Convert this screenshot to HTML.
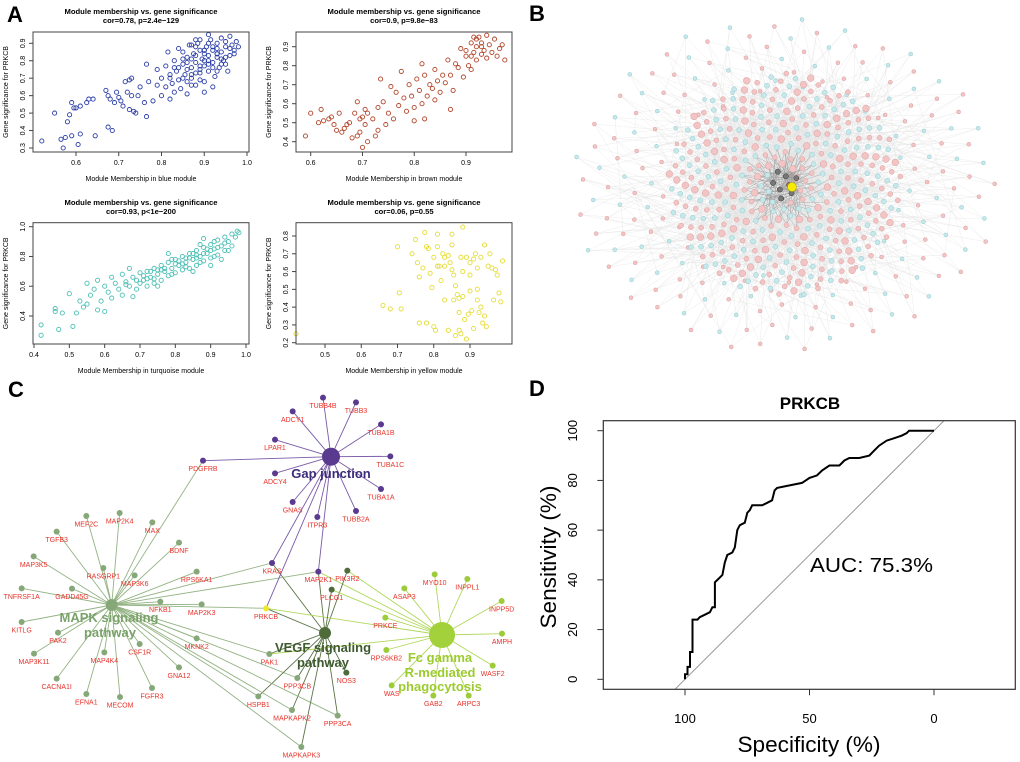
<!DOCTYPE html>
<html><head><meta charset="utf-8"><style>
html,body{margin:0;padding:0;background:#fff}
svg{display:block;font-family:"Liberation Sans",sans-serif}
</style></head><body>
<svg id="fig" width="1020" height="762" viewBox="0 0 1020 762" xmlns="http://www.w3.org/2000/svg">
<g id="net"></g>
<g id="pa"></g>
<g id="pc"></g>
<g id="pd"></g>
<text x="7" y="22" font-size="22" font-weight="bold">A</text>
<text x="529" y="21" font-size="22" font-weight="bold">B</text>
<text x="8" y="397" font-size="22" font-weight="bold">C</text>
<text x="529" y="396" font-size="22" font-weight="bold">D</text>
</svg>
<script>
// ---------- Panel A data ----------
const blueX=[0.52,0.55,0.565,0.57,0.575,0.58,0.585,0.59,0.59,0.595,0.60,0.605,0.61,0.61,0.625,0.63,0.64,0.645,0.67,0.675,0.675,0.68,0.685,0.69,0.695,0.70,0.705,0.71,0.715,0.72,0.725,0.73,0.73,0.725,0.735,0.74,0.745,0.75,0.76,0.765,0.765,0.77,0.78,0.79,0.79,0.80,0.80,0.81,0.81,0.815,0.82,0.82,0.825,0.83,0.83,0.835,0.84,0.845,0.85,0.85,0.855,0.86,0.86,0.865,0.87,0.87,0.875,0.88,0.88,0.885,0.89,0.89,0.895,0.90,0.90,0.905,0.91,0.91,0.915,0.92,0.92,0.925,0.93,0.93,0.935,0.94,0.94,0.945,0.95,0.955,0.96,0.96,0.965,0.97,0.975,0.98,0.90,0.86,0.84,0.88,0.92,0.95,0.87,0.89,0.93,0.91,0.86,0.90,0.94,0.88,0.92,0.85,0.89,0.93,0.96,0.87,0.91,0.83,0.95,0.90,0.87,0.89,0.91,0.93,0.85,0.88,0.90,0.92,0.94,0.86,0.84,0.82,0.88,0.91,0.95,0.97,0.89,0.87,0.93,0.90];
const blueY=[0.34,0.50,0.35,0.30,0.36,0.45,0.49,0.37,0.56,0.53,0.53,0.32,0.38,0.54,0.56,0.58,0.58,0.37,0.63,0.60,0.42,0.58,0.40,0.56,0.62,0.59,0.57,0.54,0.68,0.62,0.69,0.60,0.70,0.52,0.51,0.50,0.60,0.65,0.56,0.48,0.78,0.68,0.57,0.66,0.75,0.60,0.70,0.65,0.77,0.85,0.58,0.72,0.67,0.62,0.80,0.74,0.69,0.64,0.78,0.85,0.72,0.61,0.82,0.89,0.70,0.76,0.84,0.66,0.79,0.90,0.73,0.86,0.81,0.68,0.77,0.88,0.83,0.74,0.92,0.79,0.86,0.71,0.82,0.90,0.76,0.85,0.93,0.80,0.88,0.74,0.83,0.94,0.89,0.86,0.91,0.88,0.62,0.75,0.87,0.92,0.65,0.91,0.81,0.69,0.87,0.95,0.79,0.84,0.78,0.73,0.88,0.81,0.77,0.84,0.87,0.89,0.80,0.76,0.82,0.86,0.72,0.75,0.78,0.74,0.70,0.83,0.86,0.76,0.81,0.68,0.76,0.70,0.88,0.90,0.78,0.84,0.92,0.66,0.84,0.80];
const brownX=[0.59,0.60,0.615,0.62,0.625,0.635,0.64,0.645,0.65,0.655,0.66,0.665,0.67,0.675,0.68,0.685,0.69,0.69,0.695,0.695,0.70,0.70,0.705,0.705,0.71,0.71,0.72,0.725,0.73,0.73,0.735,0.74,0.745,0.75,0.755,0.76,0.765,0.77,0.775,0.78,0.785,0.79,0.795,0.80,0.80,0.805,0.81,0.815,0.815,0.82,0.82,0.825,0.83,0.835,0.84,0.84,0.845,0.85,0.855,0.86,0.865,0.87,0.87,0.875,0.88,0.885,0.89,0.895,0.90,0.905,0.91,0.91,0.915,0.915,0.92,0.92,0.925,0.93,0.93,0.935,0.94,0.94,0.945,0.95,0.955,0.96,0.965,0.97,0.975,0.92,0.90,0.93,0.91];
const brownY=[0.43,0.55,0.50,0.57,0.51,0.52,0.53,0.49,0.46,0.55,0.45,0.47,0.49,0.50,0.42,0.55,0.61,0.43,0.45,0.52,0.37,0.53,0.49,0.57,0.40,0.55,0.52,0.43,0.46,0.58,0.73,0.61,0.49,0.55,0.69,0.52,0.66,0.59,0.77,0.63,0.56,0.70,0.64,0.51,0.58,0.73,0.67,0.81,0.60,0.52,0.75,0.64,0.70,0.68,0.62,0.78,0.72,0.66,0.75,0.71,0.83,0.57,0.75,0.67,0.81,0.79,0.89,0.74,0.85,0.80,0.92,0.78,0.87,0.95,0.83,0.90,0.95,0.86,0.92,0.88,0.96,0.84,0.91,0.87,0.94,0.85,0.89,0.91,0.83,0.94,0.88,0.90,0.85];
const turqX=[0.42,0.42,0.46,0.46,0.47,0.48,0.50,0.51,0.52,0.53,0.54,0.55,0.55,0.56,0.57,0.58,0.59,0.60,0.60,0.61,0.62,0.63,0.64,0.65,0.66,0.67,0.68,0.68,0.69,0.70,0.70,0.71,0.72,0.72,0.73,0.74,0.74,0.75,0.76,0.76,0.77,0.78,0.78,0.79,0.80,0.80,0.81,0.82,0.82,0.83,0.84,0.84,0.85,0.86,0.86,0.87,0.88,0.88,0.89,0.90,0.90,0.91,0.92,0.92,0.93,0.94,0.94,0.95,0.96,0.96,0.97,0.98,0.975,0.65,0.62,0.75,0.85,0.90,0.58,0.67,0.78,0.88,0.93,0.71,0.76,0.81,0.83,0.87,0.89,0.91,0.74,0.79,0.86,0.92,0.95,0.69,0.73,0.77,0.82,0.84,0.66,0.80,0.85,0.90,0.87,0.83,0.79,0.75,0.72,0.94,0.91,0.88,0.86];
const turqY=[0.34,0.27,0.45,0.43,0.31,0.42,0.55,0.33,0.42,0.50,0.46,0.62,0.48,0.54,0.58,0.44,0.50,0.60,0.43,0.56,0.52,0.62,0.58,0.54,0.63,0.60,0.66,0.53,0.58,0.69,0.62,0.64,0.60,0.70,0.66,0.72,0.62,0.68,0.74,0.64,0.70,0.76,0.67,0.72,0.78,0.69,0.74,0.80,0.71,0.76,0.82,0.72,0.78,0.84,0.74,0.80,0.86,0.77,0.82,0.88,0.79,0.85,0.91,0.81,0.87,0.93,0.84,0.90,0.95,0.87,0.93,0.96,0.97,0.68,0.66,0.60,0.70,0.74,0.64,0.72,0.82,0.92,0.78,0.67,0.71,0.77,0.73,0.76,0.85,0.80,0.65,0.68,0.81,0.86,0.84,0.64,0.70,0.72,0.75,0.79,0.61,0.75,0.82,0.84,0.88,0.79,0.78,0.71,0.65,0.89,0.90,0.82,0.79];
const yelX=[0.42,0.66,0.68,0.70,0.705,0.71,0.74,0.75,0.755,0.76,0.76,0.77,0.775,0.78,0.78,0.785,0.79,0.795,0.80,0.80,0.805,0.81,0.81,0.81,0.815,0.82,0.825,0.83,0.83,0.84,0.84,0.845,0.85,0.85,0.85,0.855,0.855,0.86,0.86,0.865,0.87,0.87,0.87,0.875,0.88,0.88,0.885,0.89,0.89,0.895,0.90,0.90,0.905,0.91,0.91,0.915,0.92,0.92,0.925,0.93,0.93,0.935,0.94,0.94,0.945,0.95,0.955,0.96,0.965,0.97,0.975,0.98,0.985,0.99,0.875,0.90,0.83,0.92,0.88];
const yelY=[0.25,0.41,0.39,0.74,0.48,0.39,0.70,0.78,0.65,0.57,0.31,0.62,0.82,0.74,0.31,0.73,0.59,0.51,0.68,0.29,0.27,0.81,0.63,0.74,0.63,0.55,0.70,0.68,0.63,0.69,0.27,0.65,0.81,0.61,0.75,0.44,0.58,0.52,0.24,0.47,0.45,0.27,0.37,0.68,0.85,0.60,0.33,0.22,0.68,0.36,0.49,0.65,0.38,0.28,0.67,0.70,0.50,0.62,0.37,0.68,0.40,0.31,0.75,0.35,0.29,0.63,0.70,0.62,0.44,0.61,0.58,0.48,0.43,0.66,0.25,0.58,0.44,0.44,0.46];
const tlXTicks=[0.6,0.7,0.8,0.9,1.0], tlYTicks=[0.3,0.4,0.5,0.6,0.7,0.8,0.9];
const trXTicks=[0.6,0.7,0.8,0.9], trYTicks=[0.4,0.5,0.6,0.7,0.8,0.9];
const blXTicks=[0.4,0.5,0.6,0.7,0.8,0.9,1.0], blYTicks=[0.4,0.6,0.8,1.0];
const brXTicks=[0.5,0.6,0.7,0.8,0.9], brYTicks=[0.2,0.3,0.4,0.5,0.6,0.7,0.8];
// ---------- Panel D data ----------
const rocSpec=[100,100,99,99,98,98,97,97,95,94,92,90,89,88,88,87,86,85,84,83,81,80,79,78,76,75,74,73,69,67,65,64,63,58,53,50,47,45,42,38,36,34,30,26,24,22,19,16,13,11,10,0];
const rocSens=[0,2,2,5,5,11,11,24,24,25,26,27,29,29,39,40,41,42,47,50,51,53,60,62,63,67,68,70,70,71,72,76,77,78,79,81,82,84,86,86,88,89,89,90,92,94,96,97,98,99,100,100];
const rocXTicks=[100,50,0], rocYTicks=[0,20,40,60,80,100];

const NS="http://www.w3.org/2000/svg";
function mk(tag,attrs,parent,txt){const e=document.createElementNS(NS,tag);for(const k in attrs)e.setAttribute(k,attrs[k]);if(txt!==undefined)e.textContent=txt;parent.appendChild(e);return e;}
function lin(d0,r0,d1,r1){return v=>r0+(v-d0)*(r1-r0)/(d1-d0);}

const pa=document.getElementById('pa');
function scatter(o){
  const g=mk('g',{},pa);
  
  
  const [x0,y0,x1,y1]=o.box;
  const xs=lin(o.xd[0],o.xd[1],o.xd[2],o.xd[3]), ys=lin(o.yd[0],o.yd[1],o.yd[2],o.yd[3]);
  const cx=(x0+x1)/2;
  const t1=mk('text',{x:cx,y:o.ty,'font-size':7.6,'font-weight':'bold','text-anchor':'middle',textLength:153,lengthAdjust:'spacingAndGlyphs'},g,'Module membership vs. gene significance');
  
  
  const t2=mk('text',{x:cx,y:o.ty+9,'font-size':7.6,'font-weight':'bold','text-anchor':'middle'},g,o.sub);
  
  
  for(let i=0;i<o.X.length;i++){
    const c=mk('circle',{cx:xs(o.X[i]).toFixed(1),cy:ys(o.Y[i]).toFixed(1),r:2.1,fill:'none',stroke:o.col,'stroke-width':0.9},g);
    
    
  }
  const b=mk('rect',{x:x0,y:y0,width:x1-x0,height:y1-y0,fill:'none',stroke:'#444','stroke-width':1},g);
  
  
  o.xt.forEach(v=>{const x=xs(v);mk('line',{x1:x,y1:y1,x2:x,y2:y1+4,stroke:'#444'},g);
    const t=mk('text',{x:x,y:y1+13,'font-size':7,'text-anchor':'middle'},g,v.toFixed(1));
    
    });
  o.yt.forEach(v=>{const y=ys(v);mk('line',{x1:x0,y1:y,x2:x0-4,y2:y,stroke:'#444'},g);
    const t=mk('text',{x:x0-8,y:y,'font-size':7,'text-anchor':'middle',transform:`rotate(-90 ${x0-8} ${y})`},g,v.toFixed(1));
    
    });
  const xt=mk('text',{x:cx,y:y1+29,'font-size':7,'text-anchor':'middle'},g,o.xl);
  
  
  const ym=(y0+y1)/2;
  const yt=mk('text',{x:x0-25,y:ym,'font-size':7,'text-anchor':'middle',transform:`rotate(-90 ${x0-25} ${ym})`},g,'Gene significance for PRKCB');
  
  
}
scatter({name:'blue-module-scatter',box:[33,32,249,152],xd:[0.6,76,1.0,247],yd:[0.9,43.3,0.3,148],X:blueX,Y:blueY,col:'#2a3da6',xt:tlXTicks,yt:tlYTicks,ty:14,sub:'cor=0.78, p=2.4e\u2212129',xl:'Module Membership in blue module'});
scatter({name:'brown-module-scatter',box:[296,32,512,152],xd:[0.6,310.7,0.9,466],yd:[0.9,46.7,0.4,141.7],X:brownX,Y:brownY,col:'#b3452a',xt:trXTicks,yt:trYTicks,ty:14,sub:'cor=0.9, p=9.8e\u221283',xl:'Module Membership in brown module'});
scatter({name:'turquoise-module-scatter',box:[33,222.7,249,344],xd:[0.4,34,1.0,246],yd:[1.0,226.7,0.4,316],X:turqX,Y:turqY,col:'#4cbfb6',xt:blXTicks,yt:blYTicks,ty:205,sub:'cor=0.93, p<1e\u2212200',xl:'Module Membership in turquoise module'});
scatter({name:'yellow-module-scatter',box:[296,222.7,512,344],xd:[0.5,325,0.9,470],yd:[0.8,236,0.2,342.7],X:yelX,Y:yelY,col:'#e6dc35',xt:brXTicks,yt:brYTicks,ty:205,sub:'cor=0.06, p=0.55',xl:'Module Membership in yellow module'});

// ---------- Panel B network (layout only, decorative) ----------
(function(){
  const g=document.getElementById('net');
  const cx=785,cy=185,N=620,pts=[];
  const ga=2.39996;
  for(let i=0;i<N;i++){
    const f=Math.sqrt((i+0.5)/N);
    const inner=f<0.82;
    const r=inner?f/0.82*112:112+(f-0.82)*520;
    const a=i*ga;
    pts.push([cx+r*Math.cos(a)*1.04,cy+r*Math.sin(a)*(inner?1:0.82)]);
  }
  const eg=mk('g',{stroke:'#c8c8c8','stroke-width':0.35,opacity:0.5},g);
  for(let i=0;i<N;i++){
    const j=(i*37+11)%N,k=(i*91+5)%200;
    mk('line',{x1:pts[i][0],y1:pts[i][1],x2:pts[j][0],y2:pts[j][1]},eg);
    mk('line',{x1:pts[i][0],y1:pts[i][1],x2:pts[k][0],y2:pts[k][1]},eg);
  }
  const dg=mk('g',{stroke:'#444','stroke-width':0.4,opacity:0.45},g);
  for(let i=0;i<12;i++)for(let j=0;j<14;j++){const q=(j*13+i*5)%70;mk('line',{x1:pts[i][0],y1:pts[i][1],x2:pts[q][0],y2:pts[q][1]},dg);}
  for(let i=N-1;i>=0;i--){
    const pink=(i*7)%5<3;
    const inner=i<N*0.67;
    const rr=inner?(i%5===0?3.4:2.5):2;
    const c=mk('circle',{cx:pts[i][0].toFixed(1),cy:pts[i][1].toFixed(1),r:rr,fill:pink?'#f2c4c4':'#c5e8ea',stroke:pink?'#dba0a0':'#94cbd0','stroke-width':0.5},g);
    
    
  }
  for(let i=0;i<8;i++){mk('circle',{cx:pts[i][0],cy:pts[i][1],r:2.6,fill:'#777',stroke:'#333','stroke-width':0.5},g);}
  const y=mk('circle',{cx:792,cy:187,r:4.5,fill:'#f5ec00',stroke:'#aa0','stroke-width':0.6},g);
  
  
})();

// ---------- Panel C pathway network ----------
const hubs={gap:[331,456.7,9,'#5a3a8e','#7a5aa8'],mapk:[111.7,605,6,'#86a878','#93b383'],vegf:[325,633,6,'#4f6b3a','#5a7445'],fc:[442,635,13,'#a3d13b','#b0d85a']};
const genes=[
['TUBB4B',969,173,'gap'],['TUBB3',1068,187,'gap'],['ADCY1',878,214,'gap'],['TUBA1B',1143,253,'gap'],['LPAR1',825,299,'gap'],['TUBA1C',1171,349,'gap'],['PDGFRB',609,362,'gap mapk'],['ADCY4',825,400,'gap'],['TUBA1A',1143,447,'gap'],['GNAS',878,486,'gap'],['TUBB2A',1068,513,'gap'],['ITPR3',952,531,'gap'],
['MEF2C',259,528,'mapk'],['MAP2K4',359,519,'mapk'],['MAX',457,547,'mapk'],['TGFB3',170,575,'mapk'],['BDNF',537,608,'mapk'],['MAP3K5',101,649,'mapk'],['RASGRP1',310,684,'mapk'],['MAP3K6',404,706,'mapk'],['RPS6KA1',590,695,'mapk'],['KRAS',816,669,'gap mapk vegf'],['MAP2K1',955,695,'gap mapk vegf fc'],['PIK3R2',1042,692,'vegf fc'],['TNFRSF1A',65,745,'mapk'],['GADD45G',216,746,'mapk'],['NFKB1',481,785,'mapk'],['MAP2K3',605,793,'mapk'],['PRKCB',798,805,'gap mapk vegf fc'],['PLCG1',995,749,'vegf fc'],
['ASAP3',1213,745,'fc'],['MYO10',1304,703,'fc'],['INPPL1',1402,717,'fc'],['INPP5D',1505,783,'fc'],['PRKCE',1156,833,'fc'],['AMPH',1506,881,'fc'],['KITLG',65,846,'mapk'],['PAK2',174,878,'mapk'],['MKNK2',590,895,'mapk'],['CSF1R',419,912,'mapk'],['MAP3K11',102,941,'mapk'],['MAP4K4',313,937,'mapk'],['PAK1',808,942,'mapk vegf fc'],['RPS6KB2',1159,930,'fc'],['GNA12',537,982,'mapk'],['WASF2',1478,977,'fc'],['CACNA1I',170,1016,'mapk'],['PPP3CB',892,1014,'mapk vegf'],['NOS3',1039,998,'vegf'],['WAS',1175,1036,'fc'],['EFNA1',259,1062,'mapk'],['MECOM',360,1071,'mapk'],['FGFR3',456,1044,'mapk'],['HSPB1',775,1069,'mapk vegf'],['GAB2',1300,1067,'fc'],['ARPC3',1406,1067,'fc'],['MAPKAPK2',876,1110,'mapk vegf'],['PPP3CA',1013,1127,'mapk vegf'],['MAPKAPK3',904,1221,'mapk vegf']];
(function(){
  const g=document.getElementById('pc');
  const eg=mk('g',{'stroke-width':0.9},g);
  const P=(x,y)=>[x/3,340+y/3];
  genes.forEach(d=>{const [x,y]=P(d[1],d[2]);d[3].split(' ').forEach(h=>{const H=hubs[h];
    const l=mk('line',{x1:H[0],y1:H[1],x2:x,y2:y,stroke:H[4]},eg);
    
    });});
  genes.forEach(d=>{const [x,y]=P(d[1],d[2]);const hs=d[3].split(' ');
    let col=hubs[hs[0]][3];
    if(d[0]==='PRKCB')col='#f0e82a';
    if(hs.length===1&&hs[0]==='fc')col='#9ccc3a';
    const c=mk('circle',{cx:x,cy:y,r:3,fill:col},g);
    
    
    const t=mk('text',{x:x,y:y+10.5,'font-size':7,fill:'#e8322a','text-anchor':'middle'},g,d[0]);
    
    });
  for(const k in hubs){const H=hubs[k];const c=mk('circle',{cx:H[0],cy:H[1],r:H[2],fill:H[3]},g);
    
    }
  const labs=[['Gap junction',331,478,'#3b2b78'],['MAPK signaling',109,622,'#7aa26a'],['pathway',110,637,'#7aa26a'],['VEGF signaling',323,652,'#3f5a2e'],['pathway',323,667,'#3f5a2e'],['Fc gamma',440,662,'#9ccb2f'],['R-mediated',440,677,'#9ccb2f'],['phagocytosis',440,691,'#9ccb2f']];
  labs.forEach(l=>{const t=mk('text',{x:l[1],y:l[2],'font-size':13,'font-weight':'bold',fill:l[3],'text-anchor':'middle'},g,l[0]);
    
    });
})();

// ---------- Panel D ROC ----------
(function(){
  const g=document.getElementById('pd');
  const x0=603.3,y0=420.7,x1=1015.3,y1=689.3;
  const xs=lin(100,685,0,934), ys=lin(100,430.7,0,679.3);
  const cp=mk('clipPath',{id:'rocclip'},g);mk('rect',{x:x0,y:y0,width:x1-x0,height:y1-y0},cp);
  const dl=mk('line',{x1:xs(108),y1:ys(-8),x2:xs(-12),y2:ys(112),stroke:'#999','stroke-width':1,'clip-path':'url(#rocclip)'},g);
  
  
  let d='';rocSpec.forEach((s,i)=>{d+=(i?'L':'M')+xs(s).toFixed(1)+','+ys(rocSens[i]).toFixed(1);});
  const p=mk('path',{d:d,fill:'none',stroke:'#000','stroke-width':2},g);
  
  
  const b=mk('rect',{x:x0,y:y0,width:x1-x0,height:y1-y0,fill:'none',stroke:'#333','stroke-width':1.2},g);
  
  
  rocXTicks.forEach(v=>{const x=xs(v);mk('line',{x1:x,y1:y1,x2:x,y2:y1+6,stroke:'#333'},g);
    const t=mk('text',{x:x,y:723,'font-size':13,'text-anchor':'middle'},g,String(v));
    
    });
  rocYTicks.forEach(v=>{const y=ys(v);mk('line',{x1:x0,y1:y,x2:x0-6,y2:y,stroke:'#333'},g);
    const t=mk('text',{x:577,y:y,'font-size':13,'text-anchor':'middle',transform:`rotate(-90 577 ${y})`},g,String(v));
    
    });
  const tt=mk('text',{x:810,y:409,'font-size':17,'font-weight':'bold','text-anchor':'middle'},g,'PRKCB');
  
  
  const au=mk('text',{x:810,y:572,'font-size':20.5,textLength:123,lengthAdjust:'spacingAndGlyphs'},g,'AUC: 75.3%');
  
  
  const xt=mk('text',{x:809,y:752,'font-size':22,'text-anchor':'middle',textLength:143,lengthAdjust:'spacingAndGlyphs'},g,'Specificity (%)');
  
  
  const yt=mk('text',{x:556,y:557,'font-size':22,'text-anchor':'middle',textLength:143,lengthAdjust:'spacingAndGlyphs',transform:'rotate(-90 556 557)'},g,'Sensitivity (%)');
  
  
})();
</script>
</body></html>
